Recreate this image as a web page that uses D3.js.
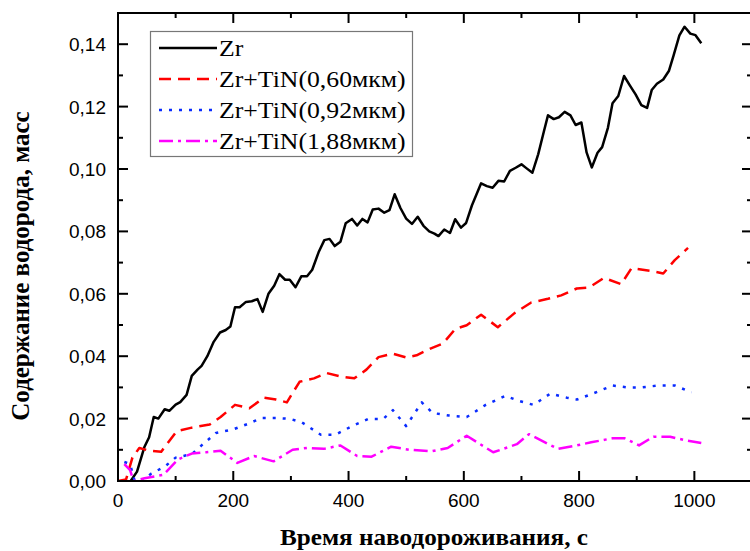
<!DOCTYPE html>
<html>
<head>
<meta charset="utf-8">
<script src="https://cdn.jsdelivr.net/npm/d3@7"></script>
<style>
  body { margin: 0; background: #fff; }
  svg { display: block; }
</style>
</head>
<body>
<svg id="chart" width="750" height="551"></svg>
<script>
// series data: [time, s ; content, mass %]
let zrTime = [22, 33, 46, 54, 62, 70, 81, 89, 100, 108, 119, 128, 138, 145, 155, 166, 177, 187, 195, 203,
    211, 222, 232, 242, 251, 261, 271, 280, 290, 298, 308, 318, 328, 337, 348, 358, 367, 376, 386, 395,
    406, 415, 424, 433, 442, 452, 462, 471, 480, 490, 500, 510, 520, 530, 540, 549, 556, 566, 576, 585,
    595, 604, 614, 630, 640, 650, 660, 670, 680, 690, 700, 709, 719, 729, 739, 746, 756, 765, 775, 785,
    794, 804, 813, 822, 832, 840, 850, 858, 868, 878, 888, 898, 908, 918, 926, 935, 946, 956, 964, 974,
    983, 993, 1002, 1012];
let zrValue = [0, 0.003, 0.011, 0.014, 0.0205, 0.020, 0.023, 0.0225, 0.0245, 0.0253, 0.0276, 0.0337, 0.0357, 0.0369, 0.040, 0.0446, 0.0476, 0.0484, 0.0495, 0.0557,
    0.0557, 0.0574, 0.0576, 0.0583, 0.0542, 0.060, 0.0626, 0.0663, 0.0645, 0.0645, 0.0621, 0.0656, 0.0656, 0.0677, 0.0733, 0.0772, 0.0776, 0.0753, 0.0767, 0.0826,
    0.084, 0.0819, 0.084, 0.0829, 0.087, 0.0873, 0.086, 0.0868, 0.0919, 0.0875, 0.0841, 0.0824, 0.0847, 0.0818, 0.080, 0.0793, 0.0785, 0.0806, 0.0795, 0.0839,
    0.0812, 0.0827, 0.0883, 0.0954, 0.0945, 0.094, 0.0962, 0.096, 0.0994, 0.1004, 0.1015, 0.1002, 0.0988, 0.1047, 0.1121, 0.1172, 0.116, 0.1166, 0.1183, 0.1172,
    0.1141, 0.1149, 0.1053, 0.1005, 0.1052, 0.107, 0.1132, 0.1211, 0.1234, 0.1298, 0.1268, 0.1239, 0.1205, 0.1196, 0.1253, 0.1273, 0.1287, 0.1315, 0.1364, 0.1428,
    0.1456, 0.1434, 0.1429, 0.1403];

let tin060Time = [0, 14, 25, 37, 54, 75, 102, 128, 159, 178, 203, 228, 253, 274, 293, 315, 340, 362, 386, 410,
    431, 452, 477, 500, 518, 543, 564, 585, 605, 630, 659, 688, 717, 746, 769, 796, 817, 843, 873, 891,
    923, 946, 966, 989];
let tin060Value = [0, 0.0005, 0.0075, 0.0106, 0.0097, 0.0094, 0.016, 0.0171, 0.0181, 0.0205, 0.0244, 0.0233, 0.0267, 0.0261, 0.0252, 0.0318, 0.0329, 0.0346, 0.0335, 0.0329,
    0.0357, 0.0397, 0.0408, 0.0396, 0.0403, 0.0425, 0.0441, 0.0487, 0.0499, 0.0533, 0.0493, 0.0538, 0.0572, 0.0584, 0.0595, 0.0617, 0.062, 0.0651, 0.0631, 0.0682,
    0.0674, 0.0665, 0.0708, 0.0747];

let tin092Time = [11, 21, 29, 41, 58, 81, 100, 128, 145, 170, 199, 224, 249, 274, 299, 319, 352, 377, 406, 434,
    460, 477, 500, 527, 546, 574, 605, 638, 672, 697, 721, 750, 779, 796, 821, 858, 883, 908, 937, 966, 995];
let tin092Value = [0.0061, 0.0054, 0, 0, 0.0024, 0.0046, 0.0075, 0.0086, 0.0114, 0.0154, 0.0165, 0.0182, 0.0202, 0.0202, 0.0199, 0.0188, 0.0148, 0.0148, 0.0176, 0.0199,
    0.0199, 0.0227, 0.0176, 0.0252, 0.0218, 0.021, 0.0205, 0.0244, 0.0273, 0.0256, 0.0244, 0.028, 0.0267, 0.0261, 0.0278, 0.0306, 0.030, 0.030, 0.0306, 0.0306, 0.0284];

let tin188Time = [11, 21, 27, 46, 79, 104, 128, 153, 178, 207, 236, 270, 303, 328, 357, 386, 415, 440, 474, 506,
    543, 572, 605, 651, 692, 713, 763, 796, 821, 858, 879, 904, 929, 958, 983, 1012];
let tin188Value = [0.0054, 0.0035, 0, 0.0009, 0.002, 0.0069, 0.0088, 0.0092, 0.0097, 0.0058, 0.008, 0.0063, 0.010, 0.0106, 0.0103, 0.0114, 0.008, 0.0078, 0.011, 0.010,
    0.0095, 0.0106, 0.0145, 0.0092, 0.0118, 0.015, 0.0103, 0.0114, 0.0124, 0.0137, 0.0137, 0.0114, 0.0142, 0.0142, 0.0131, 0.0122];

let seriesNames = ["Zr", "Zr+TiN(0,60мкм)", "Zr+TiN(0,92мкм)", "Zr+TiN(1,88мкм)"];
let xTicks = [0, 200, 400, 600, 800, 1000];
let yTicks = [0, 0.02, 0.04, 0.06, 0.08, 0.10, 0.12, 0.14];

let series = [
    { name: seriesNames[0], t: zrTime, v: zrValue, color: "#000000", dash: null },
    { name: seriesNames[1], t: tin060Time, v: tin060Value, color: "#ff0000", dash: "12,7" },
    { name: seriesNames[2], t: tin092Time, v: tin092Value, color: "#0a2cff", dash: "3,7" },
    { name: seriesNames[3], t: tin188Time, v: tin188Value, color: "#ff00ff", dash: "14,5,3,5" }
];

let sansFont = "'Liberation Sans', Arial, sans-serif";
let serifFont = "'Liberation Serif', 'Times New Roman', serif";

let plotLeft = 118, plotRight = 752, plotTop = 13, plotBottom = 481;

let x = d3.scaleLinear().domain([0, 1100]).range([plotLeft, plotRight]);
let y = d3.scaleLinear().domain([0, 0.15]).range([plotBottom, plotTop]);

let svg = d3.select("#chart");
let fmt = d => d3.format(".2f")(d).replace(".", ",");

// plot lines (clipped to frame)
svg.append("clipPath").attr("id", "clip")
    .append("rect").attr("x", plotLeft).attr("y", plotTop)
    .attr("width", plotRight - plotLeft).attr("height", plotBottom - plotTop);

let line = d3.line()
    .x(d => x(d[0]))
    .y(d => y(d[1]));

series.forEach(function(s) {
    let pts = s.t.map((t, i) => [t, s.v[i]]);
    svg.append("path")
        .attr("clip-path", "url(#clip)")
        .attr("d", line(pts))
        .attr("fill", "none")
        .attr("stroke", s.color)
        .attr("stroke-width", 2.5)
        .attr("stroke-linejoin", "round")
        .attr("stroke-dasharray", s.dash);
});

// axes: ticks point inward on all four sides
let xMinor = d3.range(0, 1101, 100);
let yMinor = d3.range(0, 0.1501, 0.01);

function tickLen(isMajor) { return isMajor ? 10 : 5; }

let g = svg.append("g").attr("stroke", "#000").attr("stroke-width", 2);

xMinor.forEach(function(v) {
    let major = v % 200 === 0;
    g.append("line").attr("x1", x(v)).attr("x2", x(v)).attr("y1", plotBottom).attr("y2", plotBottom - tickLen(major));
    g.append("line").attr("x1", x(v)).attr("x2", x(v)).attr("y1", plotTop).attr("y2", plotTop + tickLen(major));
});
yMinor.forEach(function(v, i) {
    let major = i % 2 === 0;
    g.append("line").attr("x1", plotLeft).attr("x2", plotLeft + tickLen(major)).attr("y1", y(v)).attr("y2", y(v));
    g.append("line").attr("x1", plotRight).attr("x2", plotRight - tickLen(major)).attr("y1", y(v)).attr("y2", y(v));
});

g.append("rect")
    .attr("x", plotLeft).attr("y", plotTop)
    .attr("width", plotRight - plotLeft).attr("height", plotBottom - plotTop)
    .attr("fill", "none");

// tick labels
svg.append("g").selectAll("text")
    .data(xTicks)
    .enter().append("text")
    .style("font-family", sansFont)
    .style("font-size", "19px")
    .attr("x", d => x(d))
    .attr("y", plotBottom + 26)
    .attr("text-anchor", "middle")
    .text(d => d);

svg.append("g").selectAll("text")
    .data(yTicks)
    .enter().append("text")
    .style("font-family", sansFont)
    .style("font-size", "19px")
    .attr("x", plotLeft - 12)
    .attr("y", d => y(d) + 7)
    .attr("text-anchor", "end")
    .text(fmt);

// axis titles
svg.append("text")
    .style("font-family", serifFont)
    .style("font-weight", "bold")
    .style("font-size", "23px")
    .attr("x", 280)
    .attr("y", 545)
    .attr("textLength", 308)
    .attr("lengthAdjust", "spacingAndGlyphs")
    .text("Время наводороживания, с");

svg.append("text")
    .style("font-family", serifFont)
    .style("font-weight", "bold")
    .style("font-size", "25px")
    .attr("transform", "translate(29,266) rotate(-90)")
    .attr("text-anchor", "middle")
    .text("Содержание водорода, масс");

// legend
let legend = svg.append("g");
legend.append("rect")
    .attr("x", 150.5).attr("y", 31.5)
    .attr("width", 262).attr("height", 125)
    .attr("fill", "#fff")
    .attr("stroke", "#777")
    .attr("stroke-width", 1.2);

series.forEach(function(s, i) {
    let ly = 48 + i * 31;
    legend.append("line")
        .attr("x1", 159).attr("x2", 217)
        .attr("y1", ly).attr("y2", ly)
        .attr("stroke", s.color)
        .attr("stroke-width", 2.5)
        .attr("stroke-dasharray", s.dash);
    legend.append("text")
        .style("font-family", serifFont)
        .style("font-size", "23px")
        .attr("transform", "translate(219," + (ly + 8) + ") scale(1.12,1)")
        .text(s.name);
});
</script>
</body>
</html>
